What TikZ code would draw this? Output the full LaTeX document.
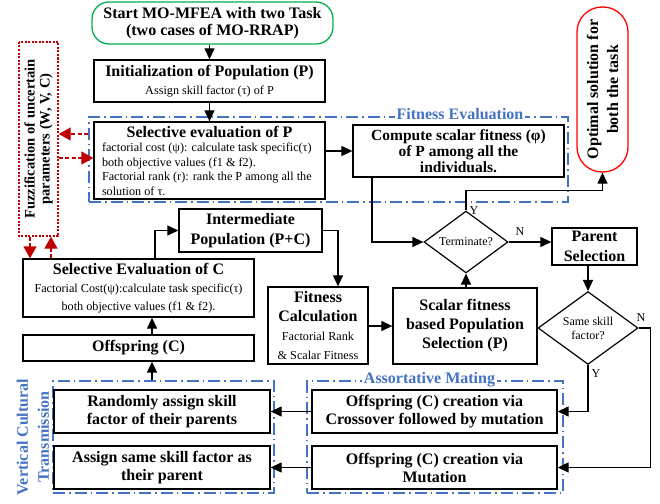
\documentclass[tikz,border=0pt]{standalone}
\usepackage{fontspec}
\setmainfont{Liberation Serif}
\usetikzlibrary{arrows.meta,shapes.geometric}
\definecolor{fgreen}{RGB}{0,176,80}
\definecolor{fblue}{RGB}{68,114,196}
\definecolor{fred}{RGB}{192,0,0}
\definecolor{ored}{RGB}{255,0,0}
\newcommand\tfont{\fontsize{16}{18}\selectfont\bfseries}
\newcommand\sfont{\fontsize{12.2}{14.5}\selectfont\mdseries}
\newcommand\dfont{\fontsize{12}{14}\selectfont}
\begin{document}
\begin{tikzpicture}[x=1pt,y=-1pt,
 box/.style={draw, line width=1.3pt, align=center, inner sep=0pt, font=\tfont},
 arr/.style={line width=1.2pt, -{Triangle[length=11pt,width=10pt]}},
 grp/.style={draw=fblue, line width=1.1pt, dash pattern=on 12pt off 4pt on 1.5pt off 4pt, inner sep=0pt},
 grplabel/.style={text=fblue, font=\tfont, fill=white, inner sep=2pt},
 decision/.style={diamond, draw, line width=1.2pt, inner sep=0pt, font=\dfont, align=center},
 redarr/.style={draw=fred, line width=1.4pt, dash pattern=on 4pt off 2.5pt, -{Triangle[length=12pt,width=13pt,fill=fred]}},
 yn/.style={font=\dfont, inner sep=1pt}]
\useasboundingbox (0,0) rectangle (660,503);
% groups
\node[grp, minimum width=479, minimum height=85] (fe) at (328.5,159.5) {};
\node[grp, minimum width=221, minimum height=112] (vct) at (163.5,437) {};
\node[grp, minimum width=256, minimum height=112] (am) at (435,437) {};
\node[grplabel] (felab) at (460,114) {Fitness Evaluation};
\node[grplabel] (amlab) at (429.5,380) {Assortative Mating};
\node[text=fblue, font=\fontsize{16}{21}\selectfont\bfseries, rotate=90, align=center, inner sep=0pt] (vctlab) at (33,437) {Vertical Cultural\\Transmission};
% nodes
\node[box, rounded corners=17pt, draw=fgreen, minimum width=241, minimum height=42, font=\fontsize{16}{17}\selectfont\bfseries] (start) at (212.5,23) {Start MO-MFEA with two Task\\(two cases of MO-RRAP)};
\node[box, minimum width=231, minimum height=42] (init) at (209.5,81) {Initialization of Population (P)\\{\sfont Assign skill factor (τ) of P}};
\node[box, minimum width=231, minimum height=77, align=left, font=\sfont] (selP) at (209.5,160.5) {\makebox[215pt]{\tfont Selective evaluation of P}\\factorial cost (ψ): calculate task specific(τ)\\both objective values (f1 \& f2).\\Factorial rank (r): rank the P among all the\\solution of τ.};
\node[box, minimum width=211, minimum height=52, font=\fontsize{15.5}{16}\selectfont\bfseries] (compute) at (458.5,151) {Compute scalar fitness (φ)\\of P among all the\\individuals.};
\node[box, draw=ored, rotate=90, rounded corners=25pt, minimum width=165, minimum height=51, font=\fontsize{16}{20}\selectfont\bfseries] (opt) at (602.5,89.5) {Optimal solution for\\both the task};
\node[draw=fred, line width=1.4pt, dash pattern=on 2pt off 1.5pt, rotate=90, minimum width=194, minimum height=39, inner sep=0pt, align=center, font=\fontsize{14.5}{15}\selectfont\bfseries] (fuzz) at (38.5,139) {Fuzzification of uncertain\\parameters (W, V, C)};
\node[box, minimum width=143, minimum height=43, font=\fontsize{16}{20}\selectfont\bfseries] (inter) at (250.5,230.5) {Intermediate\\Population (P+C)};
\node[box, minimum width=231, minimum height=58] (selC) at (138.5,288) {Selective Evaluation of C\\{\sfont Factorial Cost(ψ):calculate task specific(τ)}\\{\sfont both objective values (f1 \& f2).}};
\node[box, minimum width=100, minimum height=77, font=\fontsize{16}{19}\selectfont\bfseries] (fitcalc) at (318,325.5) {Fitness\\Calculation\\{\sfont Factorial Rank}\\{\sfont \& Scalar Fitness}};
\node[box, minimum width=144, minimum height=76, font=\fontsize{16}{19}\selectfont\bfseries] (scalar) at (465,326) {Scalar fitness\\based Population\\Selection (P)};
\node[box, minimum width=231, minimum height=26] (offs) at (138.5,348) {Offspring (C)};
\node[box, minimum width=85, minimum height=37, font=\fontsize{16}{20}\selectfont\bfseries] (parent) at (594.5,246.5) {Parent\\Selection};
\node[decision, minimum width=84, minimum height=50] (term) at (466,242) {Terminate?};
\node[decision, minimum width=100, minimum height=72] (same) at (588,328) {Same skill\\factor?};
\node[box, minimum width=216, minimum height=43] (rand) at (162,411.5) {Randomly assign skill\\factor of their parents};
\node[box, minimum width=216, minimum height=43] (asame) at (162,467.5) {Assign same skill factor as\\their parent};
\node[box, minimum width=245, minimum height=43] (cross) at (434.5,411.5) {Offspring (C) creation via\\Crossover followed by mutation};
\node[box, minimum width=245, minimum height=43] (mut) at (434.5,467.5) {Offspring (C) creation via\\Mutation};
% labels
\node[yn] (ylab1) at (474,211) {Y};
\node[yn] (nlab1) at (520,232) {N};
\node[yn] (nlab2) at (641,318) {N};
\node[yn] (ylab2) at (596,374) {Y};
% connectors
\draw[arr] (start.south -| init.north) -- (init.north);
\draw[arr] (init) -- (selP);
\draw[arr] (selP.east |- compute.west) -- (compute.west);
\coordinate (c1) at ([xshift=-86.5pt]compute.south);
\draw[arr] (c1) |- (term.west);
\draw[arr] (term.north) -- ++(0,-20) -| (opt.west);
\draw[arr] (term.east) -- (term.east -| parent.west);
\draw[arr] (parent.south -| same.north) -- (same.north);
\draw[arr] (scalar.north -| term.south) -- (term.south);
\draw[arr] (fitcalc.east |- scalar.west) -- (scalar.west);
\draw[arr] (same.east) -- ++(12,0) |- (mut.east);
\draw[arr] (same.south) |- (cross.east);
\draw[arr] (cross.west) -- (rand.east);
\draw[arr] (mut.west) -- (asame.east);
\coordinate (v1) at ([xshift=13.5pt]offs.south);
\draw[arr] (v1 |- vct.north) -- (v1);
\draw[arr] (v1 |- offs.north) -- (v1 |- selC.south);
\draw[arr] ([xshift=16.5pt]selC.north) |- (inter.west);
\draw[arr] (inter.east) -| ([xshift=20pt]fitcalc.north);
% red dashed
\coordinate (r1) at ([xshift=-5pt,yshift=26.5pt]selP.west);
\draw[redarr] (r1) -- (r1 -| fuzz.south);
\coordinate (r2) at ([yshift=2.5pt]selP.west);
\draw[redarr] (r2 -| fuzz.south) -- (r2);
\coordinate (r3) at ([xshift=-8.5pt]fuzz.west);
\draw[redarr] (r3) -- (r3 |- selC.north);
\coordinate (r4) at ([xshift=12.5pt]fuzz.west);
\draw[redarr] (r4 |- selC.north) -- (r4);
\end{tikzpicture}
\end{document}
